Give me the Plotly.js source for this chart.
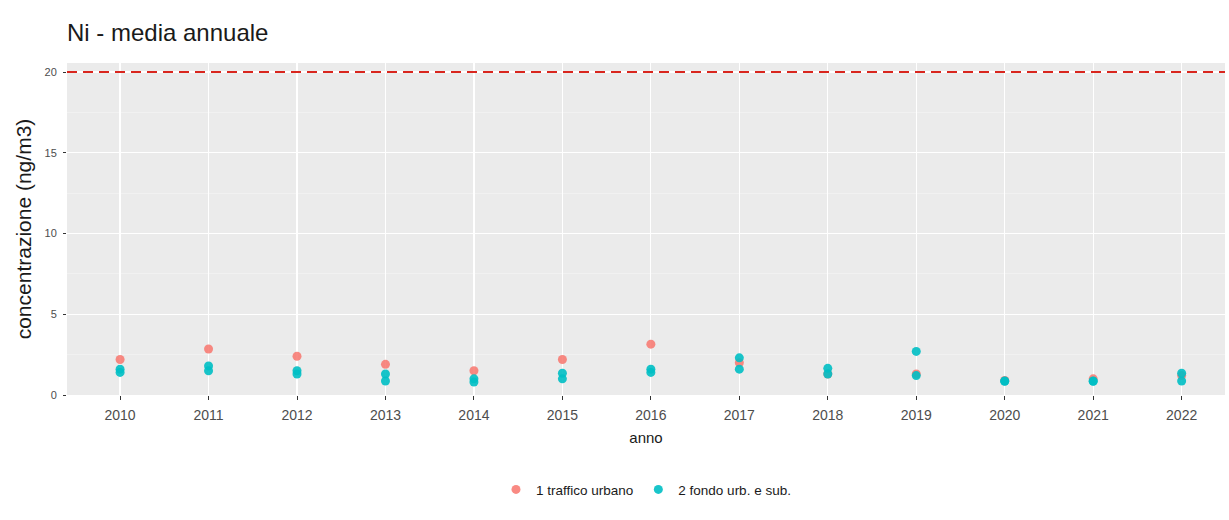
<!DOCTYPE html>
<html>
<head>
<meta charset="utf-8">
<script src="https://cdn.plot.ly/plotly-3.0.1.min.js"></script>
<style>html,body{margin:0;padding:0;background:#fff;}#chart{width:1229px;height:520px;}</style>
</head>
<body>
<div id="chart"></div>
<script>
// Data
var years = [2010, 2011, 2012, 2013, 2014, 2015, 2016, 2017, 2018, 2019, 2020, 2021, 2022];
var traffico = [2.2, 2.85, 2.4, 1.9, 1.5, 2.2, 3.15, 2.0, 1.3, 1.3, 0.9, 1.0, 1.2];
var fondoA = [1.6, 1.8, 1.5, 1.3, 1.0, 1.35, 1.6, 2.3, 1.65, 2.7, 0.87, 0.87, 1.35];
var fondoB = [1.4, 1.5, 1.3, 0.87, 0.8, 1.0, 1.4, 1.6, 1.3, 1.2, 0.85, 0.85, 0.87];
var limite = 20;
var yTicks = [0, 5, 10, 15, 20];

var fx = [], fy = [];
for (var i = 0; i < years.length; i++) {
  fx.push(years[i]); fy.push(fondoA[i]);
  fx.push(years[i]); fy.push(fondoB[i]);
}

var traces = [
  {
    type: 'scatter', mode: 'markers', name: '1 traffico urbano',
    x: years, y: traffico,
    marker: {color: '#F8766D', size: 9, opacity: 0.85}
  },
  {
    type: 'scatter', mode: 'markers', name: '2 fondo urb. e sub.',
    x: fx, y: fy,
    marker: {color: '#00BFC4', size: 9, opacity: 0.9}
  }
];

var layout = {
  width: 1229, height: 520,
  paper_bgcolor: '#ffffff',
  plot_bgcolor: '#EBEBEB',
  font: {family: 'Liberation Sans, Arial, sans-serif', color: '#4D4D4D', size: 12},
  margin: {l: 67, r: 4, t: 63, b: 125},
  title: {text: 'Ni - media annuale', x: 0.0545, xanchor: 'left', y: 0.9365, yanchor: 'middle',
          font: {size: 24, color: '#1a1a1a'}},
  xaxis: {
    range: [2009.40, 2022.49],
    tickvals: years, ticktext: years.map(String),
    showgrid: true, gridcolor: '#ffffff', gridwidth: 1.2,
    zeroline: false, showline: false,
    ticks: 'outside', ticklen: 4, tickcolor: '#333333',
    ticklabelstandoff: 3,
    tickfont: {size: 14, color: '#4D4D4D'},
    title: {text: 'anno', font: {size: 15, color: '#1a1a1a'}, standoff: 10}
  },
  yaxis: {
    range: [0, 20.56],
    tickvals: yTicks, ticktext: yTicks.map(String),
    showgrid: true, gridcolor: '#ffffff', gridwidth: 1.2,
    minor: {dtick: 2.5, showgrid: true, gridcolor: '#F5F5F5', gridwidth: 0.6},
    zeroline: false, showline: false,
    ticks: 'outside', ticklen: 3, tickcolor: '#333333',
    ticklabelstandoff: 4,
    tickfont: {size: 11, color: '#4D4D4D'},
    title: {text: 'concentrazione (ng/m3)', font: {size: 21, color: '#1a1a1a'}, standoff: 7}
  },
  shapes: [{
    type: 'line', xref: 'paper', x0: 0, x1: 1, yref: 'y', y0: limite, y1: limite,
    line: {color: '#D9261E', width: 2, dash: '10px,6px'}
  }],
  showlegend: true,
  legend: {
    orientation: 'h', x: 0.5, xanchor: 'center', y: -0.285, yanchor: 'middle',
    font: {size: 13.5, color: '#1a1a1a'}, bgcolor: 'rgba(0,0,0,0)'
  }
};

Plotly.newPlot('chart', traces, layout, {displayModeBar: false, staticPlot: true});
</script>
</body>
</html>
